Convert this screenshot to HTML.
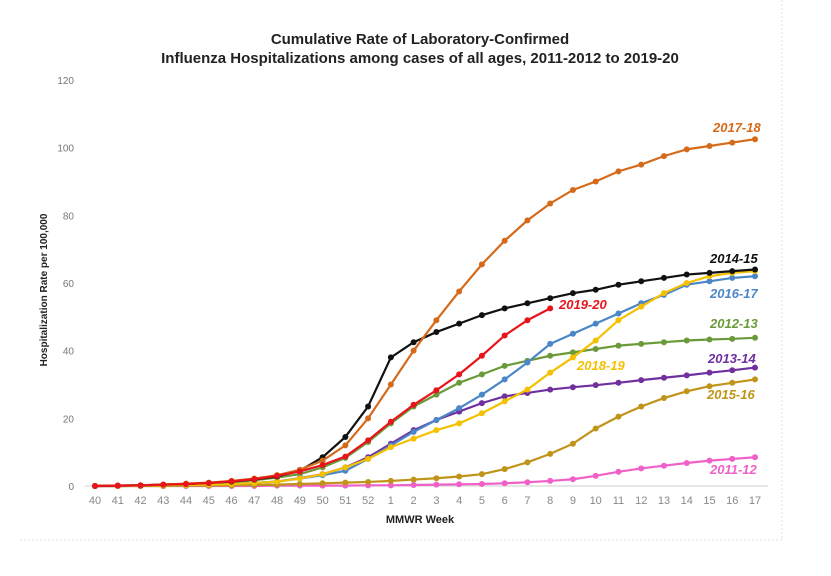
<!DOCTYPE html>
<html><head><meta charset="utf-8"><style>
body{margin:0;background:#fff;}
svg{display:block;font-family:"Liberation Sans",sans-serif;}
</style></head><body>
<svg id="chart" width="831" height="576">
<line x1="782" y1="0" x2="782" y2="540" stroke="#ddd" stroke-dasharray="2,2"/>
<line x1="20" y1="540" x2="782" y2="540" stroke="#ddd" stroke-dasharray="2,2"/>
<text x="420" y="44" text-anchor="middle" font-size="15" font-weight="bold" fill="#222">Cumulative Rate of Laboratory-Confirmed</text>
<text x="420" y="63" text-anchor="middle" font-size="15" font-weight="bold" fill="#222">Influenza Hospitalizations among cases of all ages, 2011-2012 to 2019-20</text>
<text transform="translate(47,290) rotate(-90)" text-anchor="middle" font-size="10" font-weight="bold" fill="#222">Hospitalization Rate per 100,000</text>
<text x="420" y="523" text-anchor="middle" font-size="11" font-weight="bold" fill="#222">MMWR Week</text>
<g id="axes"></g>
<g id="series"></g>
</svg>
<script>
const weeks=["40","41","42","43","44","45","46","47","48","49","50","51","52","1","2","3","4","5","6","7","8","9","10","11","12","13","14","15","16","17"];
const yTicks=[0,20,40,60,80,100,120];
const s1112=[0,0,0,0,0,0,0,0,0.1,0.1,0.1,0.1,0.2,0.2,0.3,0.4,0.5,0.6,0.8,1.1,1.5,2,3,4.2,5.2,6,6.8,7.5,8,8.5];
const s1213=[0,0.1,0.2,0.3,0.5,0.8,1.2,1.7,2.5,3.5,5.5,8.3,13,18.5,23.5,27,30.5,33,35.5,37,38.5,39.5,40.5,41.5,42,42.5,43,43.3,43.5,43.8];
const s1314=[0,0,0.1,0.2,0.3,0.4,0.6,0.9,1.3,2.3,3.5,5.5,8.5,12.5,16.5,19.5,22,24.5,26.5,27.5,28.5,29.2,29.8,30.5,31.3,32,32.7,33.5,34.2,35];
const s1415=[0,0.1,0.2,0.4,0.6,0.9,1.3,1.9,2.8,4.5,8.5,14.5,23.5,38,42.5,45.5,48,50.5,52.5,54,55.5,57,58,59.5,60.5,61.5,62.5,63,63.5,64];
const s1516=[0,0,0,0,0.1,0.1,0.2,0.3,0.4,0.6,0.8,1,1.2,1.5,1.9,2.3,2.8,3.5,5,7,9.5,12.5,17,20.5,23.5,26,28,29.5,30.5,31.5];
const s1617=[0,0,0.1,0.2,0.3,0.4,0.6,0.9,1.3,2.2,3.2,4.5,8,12,16,19.5,23,27,31.5,36.5,42,45,48,51,54,56.5,59.5,60.5,61.5,62];
const s1718=[0,0.1,0.2,0.4,0.7,1,1.5,2.2,3.2,4.8,7.5,12,20,30,40,49,57.5,65.5,72.5,78.5,83.5,87.5,90,93,95,97.5,99.5,100.5,101.5,102.5];
const s1819=[0,0,0.1,0.2,0.3,0.4,0.6,0.9,1.3,2.2,3.5,5.5,8,11.5,14,16.5,18.5,21.5,25,28.5,33.5,38,43,49,53,57,60,62,63,63.5];
const s1920=[0,0.1,0.2,0.4,0.6,0.9,1.4,2,3,4.3,6.2,8.7,13.5,19,24,28.3,33,38.5,44.5,49,52.5];
const seriesNames=["2011-12","2012-13","2013-14","2015-16","2016-17","2018-19","2014-15","2017-18","2019-20"];
const seriesVals=[s1112,s1213,s1314,s1516,s1617,s1819,s1415,s1718,s1920];
const colors=["#F060C8","#6A9A3A","#7030A0","#C09418","#4A86C8","#F5C000","#111111","#D46A1A","#E8141C"];
const labelPos=[[710,474],[710,328],[708,363],[707,399],[710,298],[577,370],[710,263],[713,132],[559,309]];
const X0=95,X1=755,Y0=486,YMAX=120,YTOP=80;
const x=i=>X0+i*(X1-X0)/(weeks.length-1);
const y=v=>Y0-v*(Y0-YTOP)/YMAX;
const NS="http://www.w3.org/2000/svg";
const axes=document.getElementById('axes'),ser=document.getElementById('series');
function mk(tag,attrs,parent){const e=document.createElementNS(NS,tag);for(const k in attrs)e.setAttribute(k,attrs[k]);parent.appendChild(e);return e;}
const ax=mk('line',{x1:85,y1:Y0,x2:768,y2:Y0,stroke:'#ccc'},axes);


yTicks.forEach(t=>{const e=mk('text',{x:74,y:y(t)+4,'text-anchor':'end','font-size':10,fill:'#777'},axes);e.textContent=t;

});
weeks.forEach((w,i)=>{const e=mk('text',{x:x(i),y:504,'text-anchor':'middle','font-size':11,fill:'#888'},axes);e.textContent=w;

});
seriesVals.forEach((vals,si)=>{
const g=mk('g',{},ser);


const p=mk('polyline',{points:vals.map((v,i)=>x(i)+','+y(v)).join(' '),fill:'none',stroke:colors[si],'stroke-width':2.2},g);


vals.forEach((v,i)=>{const c=mk('circle',{cx:x(i),cy:y(v),r:3,fill:colors[si]},g);

});
const t=mk('text',{x:labelPos[si][0],y:labelPos[si][1],'font-size':13,'font-weight':'bold','font-style':'italic',fill:colors[si]},g);
t.textContent=seriesNames[si];


});
</script>
</body></html>
